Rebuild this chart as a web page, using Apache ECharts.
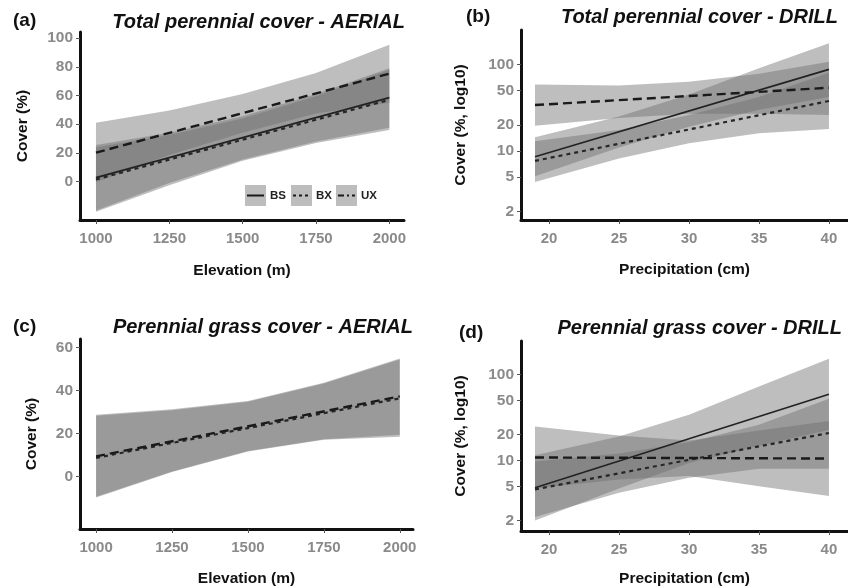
<!DOCTYPE html>
<html>
<head>
<meta charset="utf-8">
<script src="https://cdn.jsdelivr.net/npm/echarts@6/dist/echarts.min.js"></script>
<style>
  html, body { margin: 0; padding: 0; background: #fff; }
  #chart { width: 848px; height: 588px; }
</style>
</head>
<body>
<div id="chart"></div>
<script>
// x positions
var elevEnds = [1000, 2000];
var elevSteps = [1000, 1250, 1500, 1750, 2000];
var precipEnds = [19, 40];
var precipSteps = [19, 25, 30, 35, 40];

// tick labels
var elevTicks = [1000, 1250, 1500, 1750, 2000];
var precipTicks = [20, 25, 30, 35, 40];
var coverTicksA = [0, 20, 40, 60, 80, 100];
var coverTicksC = [0, 20, 40, 60];
var logTicks = [2, 5, 10, 20, 50, 100];

// (a) Total perennial cover - AERIAL
var aBs = [2.8, 58.5];
var aBx = [1.5, 57];
var aUx = [20.2, 75.2];
var aBsLo = [-20, -1, 15.5, 28, 37.5];
var aBsHi = [25.5, 34, 45.5, 61, 79];
var aBxLo = [-21, -2.5, 14.5, 27, 36];
var aBxHi = [24, 32.5, 44, 59.5, 78];
var aUxLo = [-0.5, 18.5, 34, 47.4, 55];
var aUxHi = [41, 49.5, 61, 75.6, 95.4];

// (b) Total perennial cover - DRILL
var bBs = [8.6, 87.5];
var bBx = [7.7, 37.8];
var bUx = [33.9, 53.7];
var bBsLo = [5.1, 11, 19, 30, 42];
var bBsHi = [14.4, 25, 45, 90, 175];
var bBxLo = [4.4, 8.2, 12.3, 16, 18];
var bBxHi = [13, 17.5, 26, 42, 80];
var bUxLo = [19.6, 24, 27, 27, 26];
var bUxHi = [58.7, 57, 63, 78, 107];

// (c) Perennial grass cover - AERIAL
var cBx = [8.6, 36.3];
var cUx = [9.3, 37.2];
var cBxLo = [-9.8, 2, 11.5, 17, 18.4];
var cBxHi = [28.2, 30.8, 34.7, 43.2, 54.4];
var cUxLo = [-9.5, 2.3, 11.8, 17.3, 19.3];
var cUxHi = [28.6, 31.2, 35, 43.5, 54.8];

// (d) Perennial grass cover - DRILL
var dBs = [4.8, 58.5];
var dBx = [4.6, 20.8];
var dUx = [10.8, 10.5];
var dBsLo = [2.0, 4.7, 9.3, 14.8, 22.5];
var dBsHi = [11.5, 19, 34, 72, 152];
var dBxLo = [2.2, 4.2, 6.3, 8, 8];
var dBxHi = [9.7, 12, 16.2, 26, 52];
var dUxLo = [4.7, 6, 6.6, 5, 3.85];
var dUxHi = [24.8, 19.5, 17, 22.3, 28.7];

var bandFill = 'rgba(110,110,110,0.45)';
var tickGrey = '#8a8a8a';
var fontFam = '"Liberation Sans", Arial, sans-serif';

var chart = echarts.init(document.getElementById('chart'));

function plain(v) { return String(v); }

function xAxisOf(gi, min, max, ticks, name, gap) {
  return {
    type: 'value', gridIndex: gi, min: min, max: max,
    name: name, nameLocation: 'middle', nameGap: gap,
    nameTextStyle: { color: '#111', fontSize: 15.5, fontWeight: 'bold', fontFamily: fontFam },
    axisLine: { show: true, onZero: false, lineStyle: { color: '#111', width: 3 } },
    axisTick: { show: true, customValues: ticks, length: 4, lineStyle: { color: '#555', width: 1 } },
    axisLabel: { customValues: ticks, formatter: plain, margin: 11, color: tickGrey, fontSize: 15, fontWeight: 'bold', fontFamily: fontFam },
    splitLine: { show: false }
  };
}

function yAxisOf(gi, type, min, max, ticks, name, gap) {
  return {
    type: type, gridIndex: gi, min: min, max: max, logBase: 10,
    name: name, nameLocation: 'middle', nameGap: gap,
    nameTextStyle: { color: '#111', fontSize: 15.5, fontWeight: 'bold', fontFamily: fontFam },
    axisLine: { show: true, onZero: false, lineStyle: { color: '#111', width: 3 } },
    axisTick: { show: true, customValues: ticks, length: 4, lineStyle: { color: '#555', width: 1 } },
    axisLabel: { customValues: ticks, formatter: plain, margin: 7, color: tickGrey, fontSize: 15.5, fontWeight: 'bold', fontFamily: fontFam },
    splitLine: { show: false }
  };
}

function band(gi, xs, lo, hi) {
  return {
    type: 'custom', xAxisIndex: gi, yAxisIndex: gi, silent: true, z: 1,
    data: xs.map(function (x, i) { return [x, lo[i], hi[i]]; }),
    encode: { x: 0, y: [1, 2] },
    renderItem: function (params, api) {
      if (params.dataIndex !== 0) return null;
      var pts = [];
      for (var i = 0; i < xs.length; i++) pts.push(api.coord([xs[i], hi[i]]));
      for (var j = xs.length - 1; j >= 0; j--) pts.push(api.coord([xs[j], lo[j]]));
      return { type: 'polygon', shape: { points: pts }, style: { fill: bandFill } };
    }
  };
}

var lineStyles = {
  BS: { color: '#222', width: 1.6, type: 'solid' },
  BX: { color: '#262626', width: 2.2, type: [4, 4] },
  UX: { color: '#1a1a1a', width: 2.4, type: [9, 5] }
};

function fit(gi, key, xs, ys) {
  return {
    type: 'line', name: key, xAxisIndex: gi, yAxisIndex: gi, z: 3, silent: true,
    symbol: 'none', animation: false,
    data: xs.map(function (x, i) { return [x, ys[i]]; }),
    lineStyle: lineStyles[key]
  };
}

function txt(x, y, s, size, italic, align) {
  return {
    type: 'text', x: x, y: y,
    style: {
      text: s, fill: '#111', fontSize: size, fontWeight: 'bold',
      fontStyle: italic ? 'italic' : 'normal', fontFamily: fontFam,
      align: align || 'left', verticalAlign: 'middle'
    }
  };
}

function legendKey(x, label, dash) {
  return [
    { type: 'rect', shape: { x: x, y: 185, width: 21, height: 21 }, style: { fill: '#bdbdbd' } },
    { type: 'line', shape: { x1: x + 2, y1: 195.5, x2: x + 19, y2: 195.5 },
      style: { stroke: '#1a1a1a', lineWidth: 2, lineDash: dash } },
    { type: 'text', x: x + 25, y: 196,
      style: { text: label, fill: '#222', fontSize: 11.5, fontWeight: 'bold', fontFamily: fontFam, verticalAlign: 'middle' } }
  ];
}

var graphics = [
  txt(13, 21, '(a)', 19, false),
  txt(405, 22, 'Total perennial cover - AERIAL', 20, true, 'right'),
  txt(466, 17, '(b)', 19, false),
  txt(838, 17, 'Total perennial cover - DRILL', 20, true, 'right'),
  txt(13, 327, '(c)', 19, false),
  txt(413, 327, 'Perennial grass cover - AERIAL', 20, true, 'right'),
  txt(459, 333, '(d)', 19, false),
  txt(842, 328, 'Perennial grass cover - DRILL', 20, true, 'right')
].concat(legendKey(245, 'BS', null), legendKey(291, 'BX', [3, 3]), legendKey(336, 'UX', [6, 3, 2, 3]));

var option = {
  animation: false,
  backgroundColor: '#fff',
  grid: [
    { left: 80, top: 32, width: 324, height: 188 },
    { left: 521, top: 30, width: 327, height: 190 },
    { left: 80, top: 339, width: 333, height: 190 },
    { left: 521, top: 341, width: 327, height: 190 }
  ],
  xAxis: [
    xAxisOf(0, 945.5, 2050, elevTicks, 'Elevation (m)', 43),
    xAxisOf(1, 18, 41.36, precipTicks, 'Precipitation (cm)', 42),
    xAxisOf(2, 947, 2043.6, elevTicks, 'Elevation (m)', 42),
    xAxisOf(3, 18, 41.36, precipTicks, 'Precipitation (cm)', 40)
  ],
  yAxis: [
    yAxisOf(0, 'value', -26.7, 104.2, coverTicksA, 'Cover (%)', 49),
    yAxisOf(1, 'log', 1.6, 249, logTicks, 'Cover (%, log10)', 52),
    yAxisOf(2, 'value', -24.5, 63.9, coverTicksC, 'Cover (%)', 40),
    yAxisOf(3, 'log', 1.51, 244, logTicks, 'Cover (%, log10)', 52)
  ],
  graphic: graphics,
  series: [
    band(0, elevSteps, aUxLo, aUxHi),
    band(0, elevSteps, aBsLo, aBsHi),
    band(0, elevSteps, aBxLo, aBxHi),
    fit(0, 'BS', elevEnds, aBs),
    fit(0, 'BX', elevEnds, aBx),
    fit(0, 'UX', elevEnds, aUx),

    band(1, precipSteps, bUxLo, bUxHi),
    band(1, precipSteps, bBsLo, bBsHi),
    band(1, precipSteps, bBxLo, bBxHi),
    fit(1, 'BS', precipEnds, bBs),
    fit(1, 'BX', precipEnds, bBx),
    fit(1, 'UX', precipEnds, bUx),

    band(2, elevSteps, cBxLo, cBxHi),
    band(2, elevSteps, cUxLo, cUxHi),
    fit(2, 'BX', elevEnds, cBx),
    fit(2, 'UX', elevEnds, cUx),

    band(3, precipSteps, dUxLo, dUxHi),
    band(3, precipSteps, dBsLo, dBsHi),
    band(3, precipSteps, dBxLo, dBxHi),
    fit(3, 'BS', precipEnds, dBs),
    fit(3, 'BX', precipEnds, dBx),
    fit(3, 'UX', precipEnds, dUx)
  ]
};

chart.setOption(option);
</script>
</body>
</html>
